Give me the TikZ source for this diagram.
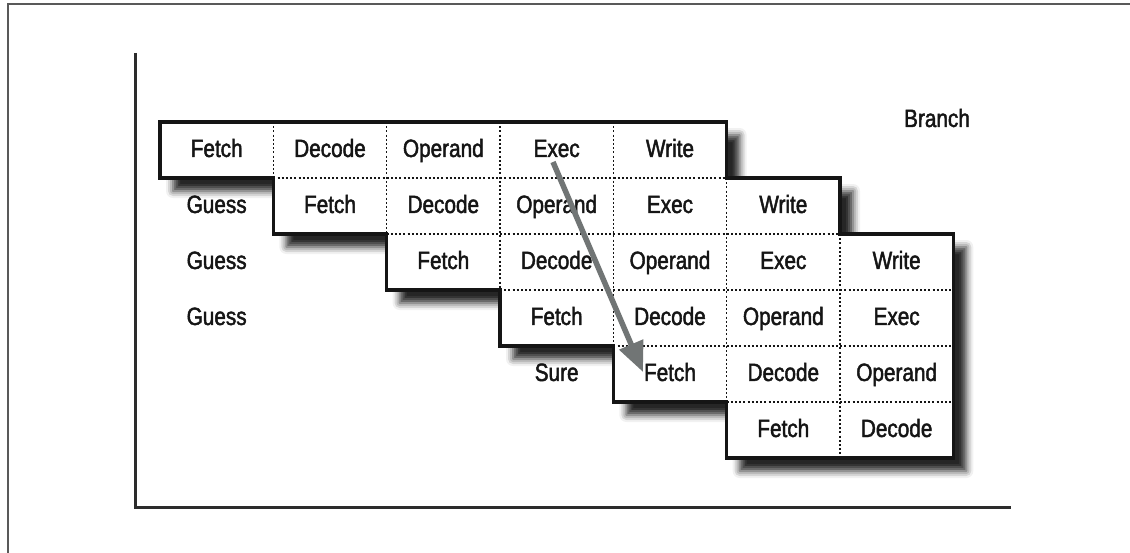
\documentclass[tikz,border=0pt]{standalone}
\usepackage{fontspec}
\setmainfont{Liberation Sans}[FakeStretch=0.83,FakeBold=1.8]
\usetikzlibrary{shadows.blur,arrows.meta}
\definecolor{arrowgray}{HTML}{717575}
\definecolor{inkc}{HTML}{151515}
\begin{document}
\begin{tikzpicture}[x=1pt,y=-1pt,
  cell/.style={font=\fontsize{25}{30}\selectfont, text=inkc, inner sep=0pt, anchor=base},
  outline/.style={draw=inkc, line width=3.4pt, fill=white, line join=miter},
  gridline/.style={draw=inkc, line width=1.4pt, dash pattern=on 2pt off 2.2pt},
  axis/.style={draw=inkc!90, line width=3pt},
  frame/.style={draw=black!65, line width=1.6pt},
  arrowline/.style={draw=arrowgray, line width=5.5pt, -{Triangle[length=30pt,width=25pt]}}]
\useasboundingbox (0,0) rectangle (1130,553);
% outer frame
\draw[frame] (8,553) -- (8,4) -- (1130,4);
% axes
\coordinate (ytop) at (135,53);
\coordinate (origin) at (135,507);
\coordinate (xend) at (1011,507);
\draw[axis] (ytop) -- (origin) -- (xend);
% staircase outline with shadow
\draw[outline, blur shadow={shadow xshift=13pt, shadow yshift=-13pt, shadow blur radius=7pt, shadow opacity=85}]
  (160,122) -- (726.6,122) -- (726.6,178) -- (840,178) -- (840,234) -- (953.3,234)
  -- (953.3,458) -- (726.6,458) -- (726.6,402) -- (613.3,402) -- (613.3,346)
  -- (500,346) -- (500,290) -- (386.6,290) -- (386.6,234) -- (273.3,234)
  -- (273.3,178) -- (160,178) -- cycle;
% inner dotted grid
\draw[gridline] (273.3,178) -- (726.6,178);
\draw[gridline] (386.6,234) -- (840,234);
\draw[gridline] (500,290) -- (953.3,290);
\draw[gridline] (613.3,346) -- (953.3,346);
\draw[gridline] (726.6,402) -- (953.3,402);
\draw[gridline] (273.3,122) -- (273.3,178);
\draw[gridline] (386.6,122) -- (386.6,234);
\draw[gridline] (500,122) -- (500,290);
\draw[gridline] (613.3,122) -- (613.3,346);
\draw[gridline] (726.6,178) -- (726.6,402);
\draw[gridline] (840,234) -- (840,458);
% cell texts
\foreach \r/\c/\t in {0/0/Fetch,0/1/Decode,0/2/Operand,0/3/Exec,0/4/Write,
  1/0/Guess,1/1/Fetch,1/2/Decode,1/3/Operand,1/4/Exec,1/5/Write,
  2/0/Guess,2/2/Fetch,2/3/Decode,2/4/Operand,2/5/Exec,2/6/Write,
  3/0/Guess,3/3/Fetch,3/4/Decode,3/5/Operand,3/6/Exec,
  4/3/Sure,4/4/Fetch,4/5/Decode,4/6/Operand,
  5/5/Fetch,5/6/Decode}
  \node[cell] (n-\r-\c) at ({216.67+113.33*\c},{157+56*\r}) {\t};
\node[cell] (branch) at (937,127) {Branch};
% arrow
\coordinate (arrS) at (553,162);
\coordinate (arrE) at (643,372);
\draw[arrowline] (arrS) -- (arrE);
\end{tikzpicture}
\end{document}
